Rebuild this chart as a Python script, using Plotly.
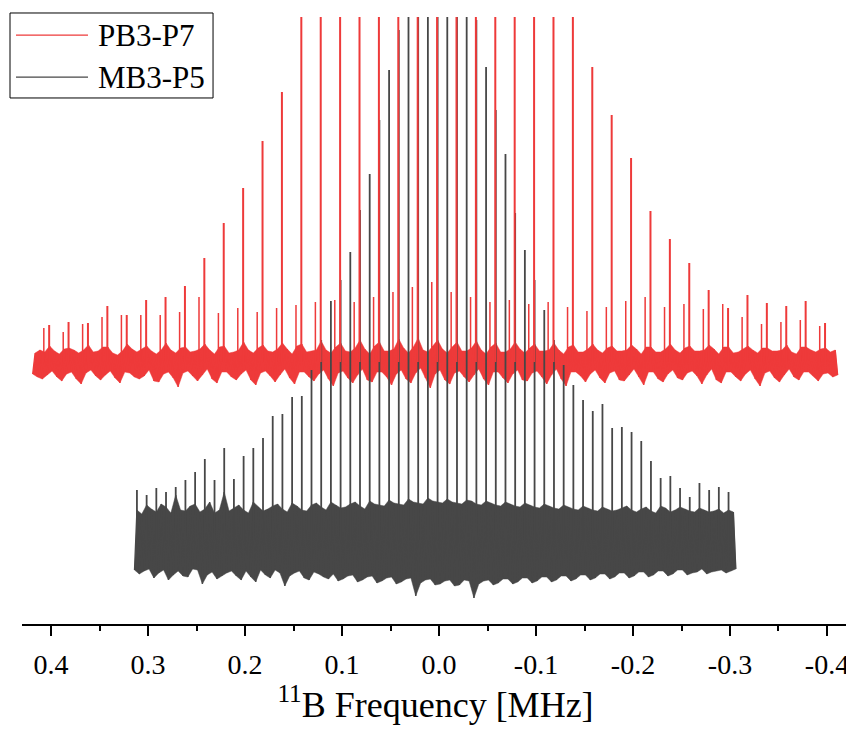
import plotly.graph_objects as go

# ---------------- data ----------------
freq_ticks = [0.4, 0.3, 0.2, 0.1, 0.0, -0.1, -0.2, -0.3, -0.4]
freq_tick_labels = ["0.4", "0.3", "0.2", "0.1", "0.0", "-0.1", "-0.2", "-0.3", "-0.4"]
minor_tick_step = 0.05

series_names = ["PB3-P7", "MB3-P5"]

# PB3-P7: baseline noise sampled on a regular frequency grid (MHz), arbitrary intensity
pb_start_mhz = 0.419
pb_step_mhz = 0.0025
pb_noise = [
    -12, 9, -15, 12, -17, 10, -13,
    16, -9, 11, -15, 8, -19, 13, -12,
    14, -10, 12, -17, 9, -22, 12, -11,
    17, -8, 10, -14, 11, -18, 15, -13,
    15, -9, 9, -16, 7, -21, 11, -10,
    18, -11, 13, -15, 10, -17, 13, -14,
    16, -8, 11, -19, 8, -20, 12, -12,
    19, -10, 12, -16, 9, -25, 14, -11,
    15, -9, 10, -14, 11, -19, 13, -13,
    18, -7, 12, -17, 8, -21, 15, -10,
    16, -10, 9, -15, 10, -18, 12, -12,
    20, -8, 12, -18, 9, -23, 14, -11,
    17, -9, 11, -14, 10, -20, 13, -13,
    19, -7, 13, -16, 8, -22, 16, -10,
    18, -10, 10, -15, 11, -19, 12, -12,
    21, -8, 12, -17, 9, -24, 15, -11,
    19, -9, 11, -16, 10, -21, 14, -13,
    22, -7, 13, -18, 8, -20, 16, -10,
    20, -10, 11, -15, 11, -23, 13, -12,
    23, -8, 14, -17, 9, -21, 15, -11,
    24, -6, 12, -16, 10, -26, 16, -12,
    22, -8, 13, -18, 9, -22, 15, -11,
    20, -9, 11, -15, 11, -20, 14, -13,
    21, -7, 12, -17, 8, -23, 15, -10,
    19, -10, 10, -16, 10, -21, 13, -12,
    20, -8, 13, -18, 9, -19, 14, -11,
    18, -9, 11, -15, 11, -22, 12, -13,
    19, -7, 12, -17, 8, -24, 15, -10,
    17, -10, 10, -14, 10, -20, 13, -12,
    18, -8, 12, -16, 9, -21, 14, -11,
    16, -9, 11, -18, 11, -19, 12, -13,
    17, -7, 13, -15, 8, -23, 15, -10,
    15, -10, 10, -17, 10, -20, 13, -12,
    18, -8, 12, -16, 9, -18, 14, -11,
    16, -9, 11, -14, 11, -22, 12, -13,
    17, -7, 13, -18, 8, -21, 15, -10,
    15, -10, 9, -15, 10, -19, 13, -12,
    16, -8, 12, -17, 9, -24, 14, -11,
    14, -9, 11, -16, 11, -20, 12, -13,
    17, -7, 10, -15, 8, -18, 15, -10,
    15, -10, 12, -14, 10, -19, 13, -12,
    14, -11, 10, -15, 12, -13,
]
# PB3-P7 spinning sidebands (position MHz, intensity above baseline)
pb_sideband_mhz = [0.402, 0.382, 0.362, 0.342, 0.322, 0.302, 0.282, 0.262, 0.242, 0.222,
                   0.202, 0.182, 0.162, 0.142, 0.122, 0.102, 0.082, 0.062, 0.042, 0.022,
                   0.002, -0.018, -0.038, -0.058, -0.078, -0.098, -0.118, -0.138, -0.158, -0.178,
                   -0.198, -0.218, -0.238, -0.258, -0.278, -0.298, -0.318, -0.338, -0.358, -0.378,
                   -0.398]
pb_sideband_int = [37, 40, 39, 56, 47, 62, 65, 76, 104, 139,
                   174, 221, 270, 400, 520, 640, 760, 870, 960, 1030,
                   1080, 1040, 970, 880, 770, 650, 530, 410, 295, 247,
                   204, 151, 123, 99, 72, 54, 67, 59, 56, 61,
                   39]
# PB3-P7 small satellite peaks next to each sideband
pb_satellite_mhz = [0.4075, 0.3875, 0.3675, 0.3475, 0.3275, 0.3075, 0.2875, 0.2675, 0.2475, 0.2275,
                    0.2075, 0.1875, 0.1675, 0.1475, 0.1275, 0.1075, 0.0875, 0.0675, 0.0475, 0.0275,
                    0.0075, -0.0125, -0.0325, -0.0525, -0.0725, -0.0925, -0.1125, -0.1325, -0.1525, -0.1725,
                    -0.1925, -0.2125, -0.2325, -0.2525, -0.2725, -0.2925, -0.3125, -0.3325, -0.3525, -0.3725,
                    -0.3925]
pb_satellite_int = [34, 30, 38, 45, 47, 47, 47, 50, 65, 49,
                    54, 50, 54, 57, 60, 62, 60, 65, 70, 75,
                    80, 70, 65, 60, 62, 58, 60, 55, 51, 55,
                    61, 65, 55, 58, 53, 58, 45, 38, 40, 42,
                    36]

# MB3-P5: baseline noise
mb_start_mhz = 0.314
mb_step_mhz = 0.0025
mb_noise = [
    -30,
    30, -34, 26, -31, 35, -29, 31, -38, 28, -33, 36, -30, 33, -40, 27, -35,
    45, -31, 30, -36, 29, -37, 34, -29, 36, -30, 28, -44, 31, -35, 38, -32,
    27, -39, 30, -36, 48, -33, 29, -31, 32, -36, 35, -40, 30, -31, 27, -37,
    38, -42, 33, -30, 29, -35, 31, -38, 34, -30, 36, -33, 31, -46, 28, -36,
    37, -33, 34, -31, 30, -38, 29, -40, 35, -32, 37, -34, 33, -37, 30, -39,
    38, -34, 35, -41, 32, -39, 33, -36, 36, -35, 38, -42, 34, -40, 31, -37,
    39, -36, 36, -43, 35, -41, 34, -38, 40, -37, 37, -44, 36, -42, 35, -39,
    41, -38, 38, -56, 37, -43, 36, -40, 42, -39, 39, -45, 38, -44, 37, -41,
    41, -40, 38, -46, 37, -45, 36, -40, 40, -41, 39, -58, 36, -44, 35, -41,
    39, -40, 37, -45, 35, -43, 34, -39, 38, -39, 36, -44, 34, -42, 33, -38,
    37, -38, 35, -43, 33, -41, 32, -37, 36, -37, 34, -42, 32, -40, 31, -36,
    35, -36, 33, -41, 31, -39, 30, -35, 34, -35, 32, -40, 30, -38, 29, -34,
    33, -34, 31, -39, 29, -37, 30, -33, 32, -33, 34, -38, 30, -36, 28, -32,
    31, -32, 33, -37, 29, -35, 27, -31, 34, -31, 32, -36, 28, -34, 30, -30,
    33, -30, 31, -35, 29, -33, 28, -32, 32, -29, 30, -34, 28, -32, 29, -31,
    31, -30, 27, -33, 30, -31, 28, -29,
]
mb_sideband_mhz = [0.3115, 0.3015, 0.2915, 0.2815, 0.2715, 0.2615, 0.2515, 0.2415, 0.2315, 0.2215,
                   0.2115, 0.2015, 0.1915, 0.1815, 0.1715, 0.1615, 0.1515, 0.1415, 0.1315, 0.1215,
                   0.1115, 0.1015, 0.0915, 0.0815, 0.0715, 0.0615, 0.0515, 0.0415, 0.0315, 0.0215,
                   0.0115, 0.0015, -0.0085, -0.0185, -0.0285, -0.0385, -0.0485, -0.0585, -0.0685, -0.0785,
                   -0.0885, -0.0985, -0.1085, -0.1185, -0.1285, -0.1385, -0.1485, -0.1585, -0.1685, -0.1785,
                   -0.1885, -0.1985, -0.2085, -0.2185, -0.2285, -0.2385, -0.2485, -0.2585, -0.2685, -0.2785,
                   -0.2885, -0.2985]
mb_sideband_int = [50, 45, 52, 48, 53, 60, 68, 81, 60, 92,
                   61, 84, 92, 102, 124, 126, 143, 144, 170, 200,
                   239, 260, 288, 330, 366, 420, 470, 510, 600, 650,
                   700, 720, 690, 640, 580, 520, 473, 430, 386, 327,
                   290, 260, 230, 200, 175, 155, 140, 129, 136, 112,
                   113, 108, 99, 79, 62, 64, 52, 43, 57, 50,
                   53, 48]

# vertical stacking offsets of the two spectra (arbitrary units)
PB_OFFSET = 262
MB_OFFSET = 84

# ---------------- styles ----------------
RED = "#ee3a3a"
GRAY = "#474747"
FONT = "Liberation Serif, Times New Roman, serif"


def grid(start, step, n):
    return [start - step * i for i in range(n)]


def noise_trace(start, step, values, offset, color, width, name):
    xs = grid(start, step, len(values))
    ys = [offset + v for v in values]
    return go.Scatter(x=xs, y=ys, mode="lines", name=name, showlegend=False,
                      line=dict(color=color, width=width), hoverinfo="skip")


def envelope_trace(start, step, values, offset, color, name):
    """Solid band between the upper and lower noise excursions of the same data."""
    xs = grid(start, step, len(values))
    up = [(x, offset + v) for x, v in zip(xs, values) if v > 0]
    lo = [(x, offset + v) for x, v in zip(xs, values) if v < 0][::-1]
    pts = up + lo
    return go.Scatter(x=[p[0] for p in pts], y=[p[1] for p in pts], mode="lines", fill="toself",
                      fillcolor=color, name=name, showlegend=False,
                      line=dict(color=color, width=0.5), hoverinfo="skip")


def spike_trace(pos, heights, offset, color, width, name):
    xs, ys = [], []
    for p, h in zip(pos, heights):
        xs += [p, p, None]
        ys += [offset, offset + h, None]
    return go.Scatter(x=xs, y=ys, mode="lines", name=name, showlegend=False,
                      line=dict(color=color, width=width), hoverinfo="skip")


fig = go.Figure()
fig.add_trace(envelope_trace(pb_start_mhz, pb_step_mhz, pb_noise, PB_OFFSET, RED, series_names[0]))
fig.add_trace(noise_trace(pb_start_mhz, pb_step_mhz, pb_noise, PB_OFFSET, RED, 1.3, series_names[0]))
fig.add_trace(spike_trace(pb_satellite_mhz, pb_satellite_int, PB_OFFSET, RED, 1.5, series_names[0]))
fig.add_trace(envelope_trace(mb_start_mhz, mb_step_mhz, mb_noise, MB_OFFSET, GRAY, series_names[1]))
fig.add_trace(noise_trace(mb_start_mhz, mb_step_mhz, mb_noise, MB_OFFSET, GRAY, 1.3, series_names[1]))
fig.add_trace(spike_trace(mb_sideband_mhz, mb_sideband_int, MB_OFFSET, GRAY, 1.8, series_names[1]))
fig.add_trace(spike_trace(pb_sideband_mhz, pb_sideband_int, PB_OFFSET, RED, 2, series_names[0]))

# legend drawn as a framed box in the upper-left corner
legend_rows = [(series_names[0], RED, 0.970), (series_names[1], GRAY, 0.901)]
shapes = [dict(type="rect", xref="paper", yref="paper", x0=-0.0145, x1=0.231, y0=0.8666, y1=1.0066,
               line=dict(color="black", width=1), fillcolor="white", layer="above")]
annotations = []
for name, col, yy in legend_rows:
    shapes.append(dict(type="line", xref="paper", yref="paper", x0=-0.0073, x1=0.0798, y0=yy, y1=yy,
                       line=dict(color=col, width=1.3), layer="above"))
    annotations.append(dict(text=name, xref="paper", yref="paper", x=0.0895, y=yy, xanchor="left",
                            yanchor="middle", showarrow=False, font=dict(family=FONT, size=31, color="black")))

# the page body adds an 8 px margin, so the figure is 8 px smaller and shifted accordingly
fig.update_layout(
    width=846, height=724,
    margin=dict(l=14, r=5, t=9, b=108),
    paper_bgcolor="white", plot_bgcolor="white",
    showlegend=False,
    shapes=shapes, annotations=annotations,
    xaxis=dict(
        range=[0.43, -0.4227],
        showline=True, linecolor="black", linewidth=2,
        ticks="outside", ticklen=10, tickwidth=2, tickcolor="black",
        tickmode="array", tickvals=freq_ticks, ticktext=freq_tick_labels,
        tickfont=dict(family=FONT, size=28, color="black"),
        ticklabelstandoff=4,
        minor=dict(ticks="outside", ticklen=5, tickwidth=2, tickcolor="black",
                   dtick=minor_tick_step, tick0=0, showgrid=False),
        showgrid=False, zeroline=False,
        title=dict(text="<sup>11</sup>B Frequency [MHz]", font=dict(family=FONT, size=36, color="black"),
                   standoff=9),
    ),
    yaxis=dict(range=[0, 607], visible=False, showgrid=False, zeroline=False),
)

fig.write_html("out.html")
